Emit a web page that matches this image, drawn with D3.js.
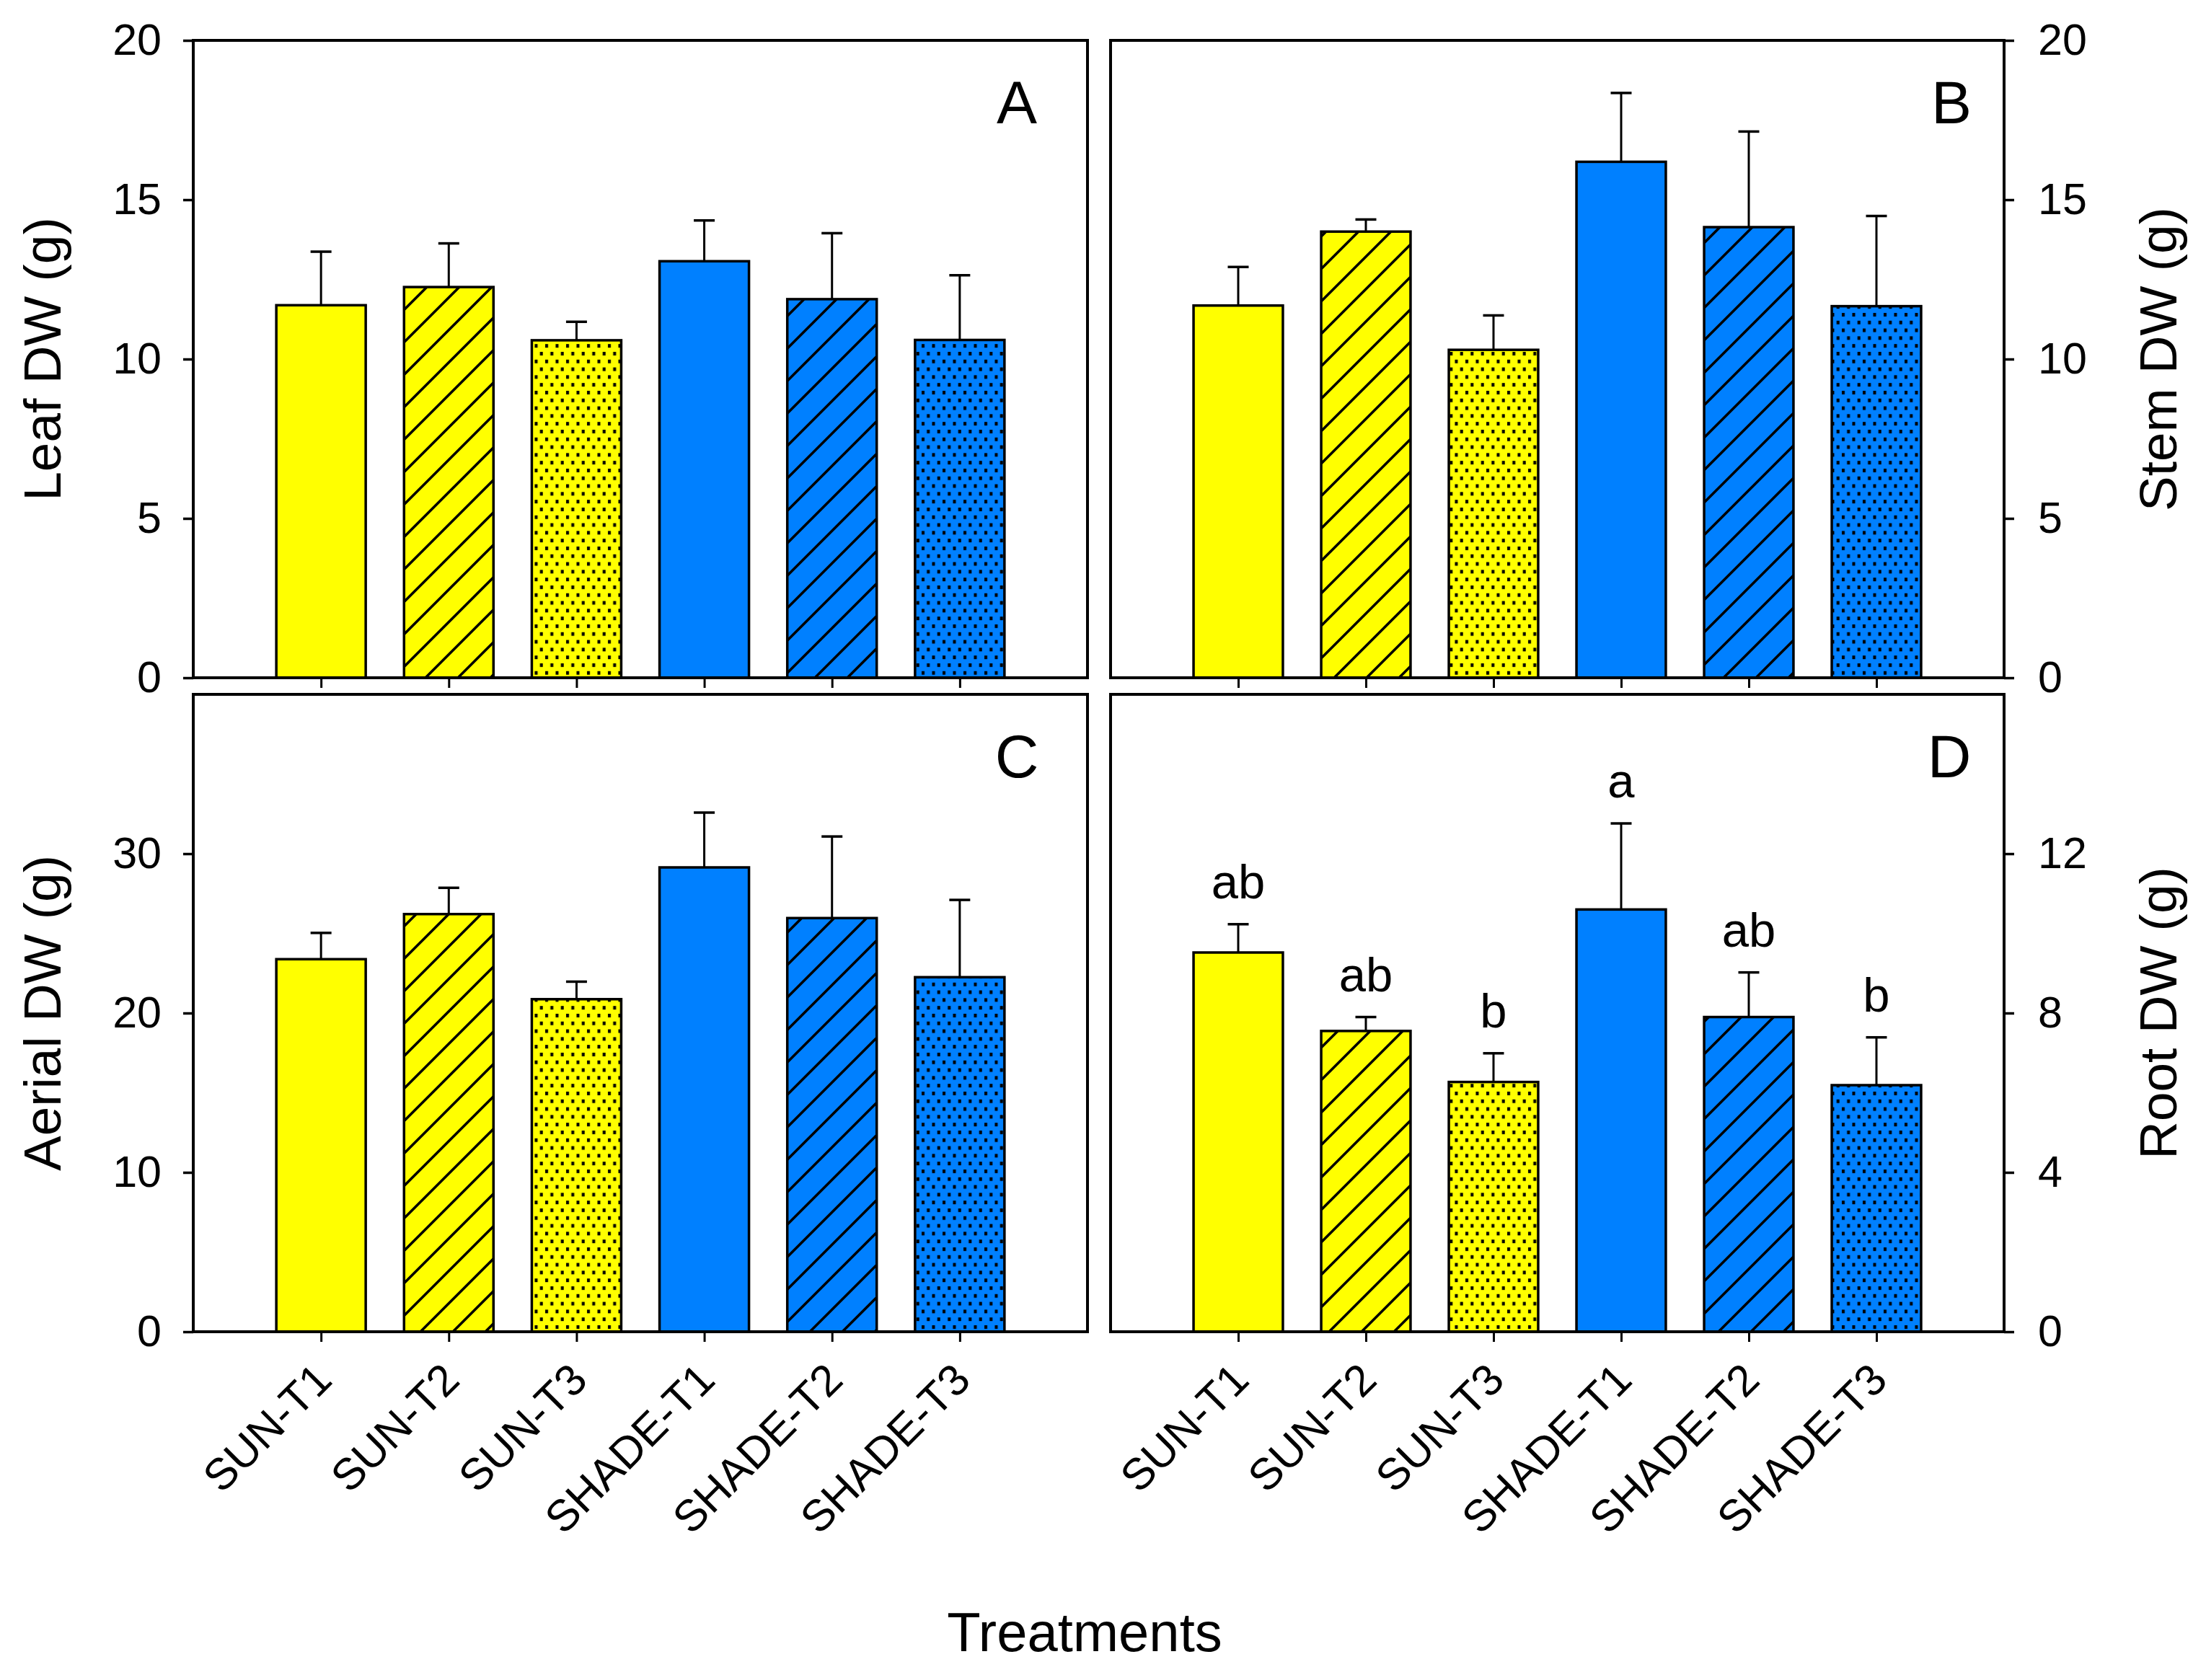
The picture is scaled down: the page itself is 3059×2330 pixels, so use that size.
<!DOCTYPE html>
<html>
<head>
<meta charset="utf-8">
<script src="https://cdn.jsdelivr.net/npm/d3@7"></script>
<style>
  html, body { margin: 0; padding: 0; background: #fff; }
  svg { display: block; font-family: "Liberation Sans", Arial, sans-serif; }
</style>
</head>
<body>
<svg id="chart"></svg>
<script>
const width = 3059;
const height = 2330;

// Data
const treatments = ["SUN-T1", "SUN-T2", "SUN-T3", "SHADE-T1", "SHADE-T2", "SHADE-T3"];
const fills = ["sun", "sun", "sun", "shade", "shade", "shade"];
const textures = ["solid", "hatch", "dots", "solid", "hatch", "dots"];

const leafDW = [11.69, 12.26, 10.59, 13.07, 11.88, 10.60];
const leafErr = [1.68, 1.37, 0.58, 1.28, 2.07, 2.03];

const stemDW = [11.68, 14.00, 10.29, 16.19, 14.14, 11.66];
const stemErr = [1.21, 0.38, 1.08, 2.16, 3.00, 2.83];

const aerialDW = [23.38, 26.21, 20.87, 29.14, 25.96, 22.25];
const aerialErr = [1.65, 1.65, 1.10, 3.44, 5.12, 4.85];

const rootDW = [9.52, 7.55, 6.27, 10.60, 7.90, 6.19];
const rootErr = [0.71, 0.35, 0.72, 2.16, 1.12, 1.20];
const rootLetters = ["ab", "ab", "b", "a", "ab", "b"];

const leafTicks = [0, 5, 10, 15, 20];
const stemTicks = [0, 5, 10, 15, 20];
const aerialTicks = [0, 10, 20, 30];
const rootTicks = [0, 4, 8, 12];

const colors = { sun: "#FFFF00", shade: "#0080FF" };

const svg = d3.select("#chart")
    .attr("width", width)
    .attr("height", height);

svg.append("rect").attr("width", width).attr("height", height).attr("fill", "#fff");

// Fill patterns: diagonal hatch and staggered dots, one of each per colour
const defs = svg.append("defs");
Object.entries(colors).forEach(([key, col]) => {
    const hatch = defs.append("pattern")
        .attr("id", `hatch-${key}`)
        .attr("patternUnits", "userSpaceOnUse")
        .attr("width", 45)
        .attr("height", 45);
    hatch.append("rect").attr("width", 45).attr("height", 45).attr("fill", col);
    hatch.append("path")
        .attr("d", "M-5,5 L5,-5 M0,45 L45,0 M40,50 L50,40")
        .attr("stroke", "#000")
        .attr("stroke-width", 3.6);

    const dots = defs.append("pattern")
        .attr("id", `dots-${key}`)
        .attr("patternUnits", "userSpaceOnUse")
        .attr("width", 14.5)
        .attr("height", 21.6);
    dots.append("rect").attr("width", 14.5).attr("height", 21.6).attr("fill", col);
    dots.append("rect").attr("x", 2).attr("y", 2).attr("width", 4).attr("height", 5).attr("fill", "#000");
    dots.append("rect").attr("x", 9.25).attr("y", 12.8).attr("width", 4).attr("height", 5).attr("fill", "#000");
});

function fillFor(i) {
    if (textures[i] === "solid") return colors[fills[i]];
    return `url(#${textures[i]}-${fills[i]})`;
}

const panels = [
    { letter: "A", values: leafDW, errors: leafErr, max: 20, ticks: leafTicks, side: "left",
      title: "Leaf DW (g)", x0: 268, x1: 1508, y0: 56, y1: 940, letterX: 1410, labels: false },
    { letter: "B", values: stemDW, errors: stemErr, max: 20, ticks: stemTicks, side: "right",
      title: "Stem DW (g)", x0: 1540, x1: 2779, y0: 56, y1: 940, letterX: 2706, labels: false },
    { letter: "C", values: aerialDW, errors: aerialErr, max: 40, ticks: aerialTicks, side: "left",
      title: "Aerial DW (g)", x0: 268, x1: 1508, y0: 963, y1: 1847, letterX: 1410, labels: true },
    { letter: "D", values: rootDW, errors: rootErr, max: 16, ticks: rootTicks, side: "right",
      title: "Root DW (g)", x0: 1540, x1: 2779, y0: 963, y1: 1847, letterX: 2703, labels: true,
      sig: rootLetters }
];

panels.forEach(drawPanel);

function drawPanel(p) {
    const g = svg.append("g").attr("class", "panel");

    const x = d3.scalePoint()
        .domain(treatments)
        .range([p.x0, p.x1])
        .padding(1);
    const y = d3.scaleLinear()
        .domain([0, p.max])
        .range([p.y1, p.y0]);
    const barW = x.step() * 0.7;

    // Bars
    g.selectAll(".bar")
        .data(p.values)
        .enter()
        .append("rect")
        .attr("class", "bar")
        .attr("x", (d, i) => x(treatments[i]) - barW / 2)
        .attr("y", d => y(d))
        .attr("width", barW)
        .attr("height", d => y(0) - y(d))
        .attr("fill", (d, i) => fillFor(i))
        .attr("stroke", "#000")
        .attr("stroke-width", 3.5);

    // Upper error bars
    const err = g.selectAll(".err")
        .data(p.values)
        .enter()
        .append("g")
        .attr("class", "err");
    err.append("line")
        .attr("x1", (d, i) => x(treatments[i]))
        .attr("x2", (d, i) => x(treatments[i]))
        .attr("y1", d => y(d))
        .attr("y2", (d, i) => y(d + p.errors[i]))
        .attr("stroke", "#000")
        .attr("stroke-width", 3);
    err.append("line")
        .attr("x1", (d, i) => x(treatments[i]) - 14.5)
        .attr("x2", (d, i) => x(treatments[i]) + 14.5)
        .attr("y1", (d, i) => y(d + p.errors[i]))
        .attr("y2", (d, i) => y(d + p.errors[i]))
        .attr("stroke", "#000")
        .attr("stroke-width", 3.5);

    // Frame
    g.append("rect")
        .attr("x", p.x0)
        .attr("y", p.y0)
        .attr("width", p.x1 - p.x0)
        .attr("height", p.y1 - p.y0)
        .attr("fill", "none")
        .attr("stroke", "#000")
        .attr("stroke-width", 4);

    // Y axis
    const yAxis = (p.side === "left" ? d3.axisLeft(y) : d3.axisRight(y))
        .tickValues(p.ticks)
        .tickSize(14)
        .tickSizeOuter(0)
        .tickPadding(p.side === "left" ? 30 : 33);
    const ya = g.append("g")
        .attr("transform", `translate(${p.side === "left" ? p.x0 : p.x1},0)`)
        .call(yAxis);
    ya.select(".domain").remove();
    ya.selectAll(".tick line").attr("stroke-width", 3.5);
    ya.selectAll(".tick text")
        .attr("font-size", 61)
        .attr("font-family", "Liberation Sans, Arial, sans-serif")
        .attr("fill", "#000");

    // X axis ticks
    const xAxis = d3.axisBottom(x).tickSize(14).tickSizeOuter(0).tickFormat("");
    const xa = g.append("g")
        .attr("transform", `translate(0,${p.y1})`)
        .call(xAxis);
    xa.select(".domain").remove();
    xa.selectAll(".tick line").attr("stroke-width", 3);

    if (p.labels) {
        g.selectAll(".xlabel")
            .data(treatments)
            .enter()
            .append("text")
            .attr("class", "xlabel")
            .attr("transform", d => `translate(${x(d) + 18},${p.y1 + 70}) rotate(-45)`)
            .attr("text-anchor", "end")
            .attr("font-size", 61)
            .text(d => d);
    }

    // Y axis title
    const tx = p.side === "left" ? 84 : 3018;
    g.append("text")
        .attr("transform", `translate(${tx},${(p.y0 + p.y1) / 2}) rotate(-90)`)
        .attr("text-anchor", "middle")
        .attr("font-size", 73)
        .text(p.title);

    // Panel letter
    g.append("text")
        .attr("x", p.letterX)
        .attr("y", p.y0 + 115)
        .attr("text-anchor", "middle")
        .attr("font-size", 84)
        .text(p.letter);

    // Significance letters
    if (p.sig) {
        g.selectAll(".sig")
            .data(p.sig)
            .enter()
            .append("text")
            .attr("class", "sig")
            .attr("x", (d, i) => x(treatments[i]))
            .attr("y", (d, i) => y(p.values[i] + p.errors[i]) - 36)
            .attr("text-anchor", "middle")
            .attr("font-size", 67)
            .text(d => d);
    }
}

// Shared x title
svg.append("text")
    .attr("x", 1504)
    .attr("y", 2290)
    .attr("text-anchor", "middle")
    .attr("font-size", 76)
    .text("Treatments");
</script>
</body>
</html>
